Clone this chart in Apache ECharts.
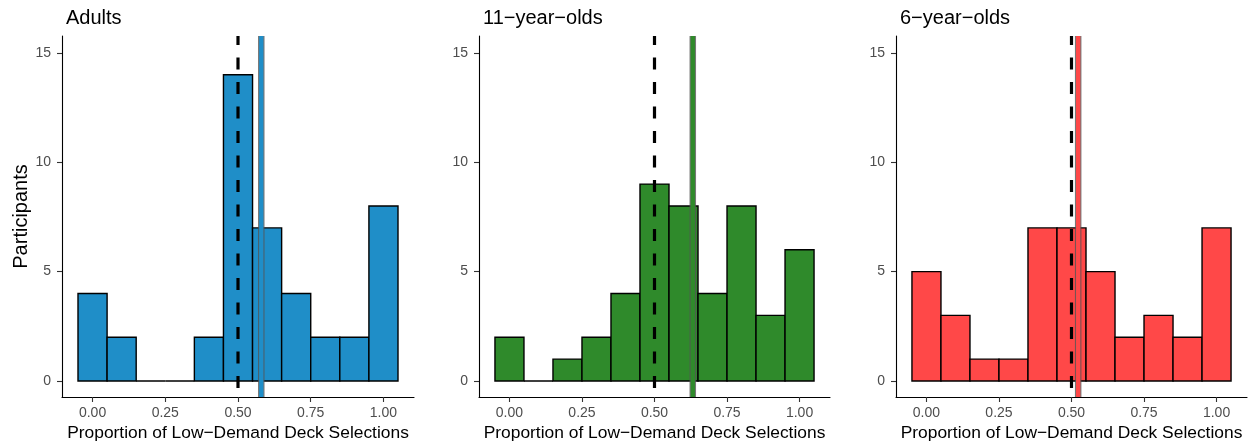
<!DOCTYPE html>
<html>
<head>
<meta charset="utf-8">
<script src="https://cdn.jsdelivr.net/npm/echarts@6/dist/echarts.min.js"></script>
<style>
  html, body { margin: 0; padding: 0; background: #fff; }
  #chart { width: 1251px; height: 444px; }
</style>
</head>
<body>
<div id="chart"></div>
<script>
// Histogram bins (centres, width 0.1) and participant counts per group
const binCenters = [0.0, 0.1, 0.2, 0.3, 0.4, 0.5, 0.6, 0.7, 0.8, 0.9, 1.0];
const adultsCounts = [4, 2, 0, 0, 2, 14, 7, 4, 2, 2, 8];
const elevenCounts = [2, 0, 1, 2, 4, 9, 8, 4, 8, 3, 6];
const sixCounts = [5, 3, 1, 1, 7, 7, 5, 2, 3, 2, 7];

// Group means and the chance level
const groupMeans = [0.580, 0.632, 0.523];
const chanceLevel = 0.5;

const panelTitles = ['Adults', '11\u2212year\u2212olds', '6\u2212year\u2212olds'];
const panelColors = ['#1f8ec8', '#2f8a2b', '#ff4848'];
const xTicks = [0, 0.25, 0.5, 0.75, 1];
const yTicks = [0, 5, 10, 15];
const xTitle = 'Proportion of Low\u2212Demand Deck Selections';
const yTitle = 'Participants';

const allCounts = [adultsCounts, elevenCounts, sixCounts];
const binWidth = 0.1;
const xMin = -0.105, xMax = 1.105;
const yMin = -0.73, yMax = 15.77;

const FONT = '"Liberation Sans", Arial, Helvetica, sans-serif';
const gridLefts = [62, 479, 896];
const gridWidths = [352, 351, 351];

const chart = echarts.init(document.getElementById('chart'), null, { renderer: 'canvas' });

const grids = [], xAxes = [], yAxes = [], series = [], titles = [];

gridLefts.forEach((left, i) => {
  grids.push({
    left: left, width: gridWidths[i], top: 36, bottom: 47,
    containLabel: false, outerBoundsMode: 'none'
  });
  titles.push({
    text: panelTitles[i], left: left - 1, top: 3,
    textStyle: { fontFamily: FONT, fontSize: 20, fontWeight: 'normal', color: '#000' }
  });
  xAxes.push({
    type: 'value', gridIndex: i, min: xMin, max: xMax,
    name: xTitle, nameLocation: 'middle', nameGap: 28,
    nameTextStyle: { fontFamily: FONT, fontSize: 17.4, color: '#000' },
    axisLine: { show: true, onZero: false, lineStyle: { color: '#000', width: 1.1 } },
    axisTick: { show: true, customValues: xTicks, length: 5, lineStyle: { color: '#333', width: 1.1 } },
    axisLabel: {
      customValues: xTicks, margin: 9, fontFamily: FONT, fontSize: 14, color: '#4d4d4d',
      formatter: v => v.toFixed(2)
    },
    splitLine: { show: false }
  });
  yAxes.push({
    type: 'value', gridIndex: i, min: yMin, max: yMax,
    name: i === 0 ? yTitle : '', nameLocation: 'middle', nameGap: 30,
    nameTextStyle: { fontFamily: FONT, fontSize: 20, color: '#000' },
    axisLine: { show: true, onZero: false, lineStyle: { color: '#000', width: 1.1 } },
    axisTick: { show: true, customValues: yTicks, length: 5, lineStyle: { color: '#333', width: 1.1 } },
    axisLabel: { customValues: yTicks, margin: 11, fontFamily: FONT, fontSize: 14, color: '#4d4d4d' },
    splitLine: { show: false }
  });

  // histogram bars
  series.push({
    type: 'custom', xAxisIndex: i, yAxisIndex: i, z: 2,
    data: binCenters.map((c, k) => [c, allCounts[i][k]]),
    renderItem: (params, api) => {
      const c = api.value(0), n = api.value(1);
      const p0 = api.coord([c - binWidth / 2, n]);
      const p1 = api.coord([c + binWidth / 2, 0]);
      return {
        type: 'rect',
        shape: { x: p0[0], y: p0[1], width: p1[0] - p0[0], height: p1[1] - p0[1] },
        style: { fill: panelColors[i], stroke: '#000', lineWidth: 1.4 }
      };
    }
  });
  // chance level (dashed), drawn from the top down
  series.push({
    type: 'line', xAxisIndex: i, yAxisIndex: i, z: 3, symbol: 'none', silent: true,
    data: [[chanceLevel, yMax], [chanceLevel, yMin]],
    lineStyle: { color: '#000', width: 3.2, type: [12, 12.5], dashOffset: 3 }
  });
  // group mean: grey outline with coloured core
  series.push({
    type: 'line', xAxisIndex: i, yAxisIndex: i, z: 4, symbol: 'none', silent: true,
    data: [[groupMeans[i], yMin], [groupMeans[i], yMax]],
    lineStyle: { color: '#555', width: 6.5, opacity: 0.8 }
  });
  series.push({
    type: 'line', xAxisIndex: i, yAxisIndex: i, z: 5, symbol: 'none', silent: true,
    data: [[groupMeans[i], yMin], [groupMeans[i], yMax]],
    lineStyle: { color: panelColors[i], width: 4.3 }
  });
});

chart.setOption({
  animation: false,
  backgroundColor: '#fff',
  title: titles,
  grid: grids,
  xAxis: xAxes,
  yAxis: yAxes,
  series: series
});
</script>
</body>
</html>
